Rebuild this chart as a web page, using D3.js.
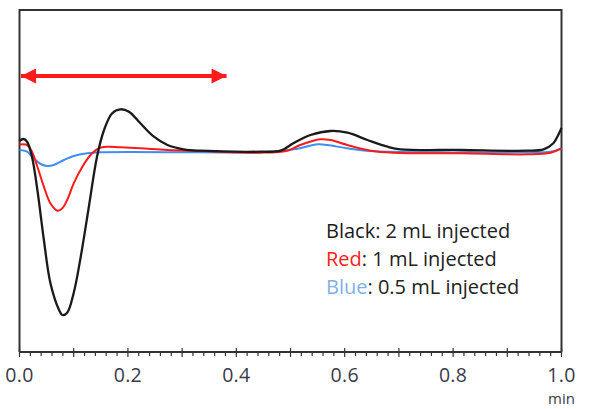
<!DOCTYPE html>
<html><head><meta charset="utf-8">
<script src="https://cdn.jsdelivr.net/npm/d3@7"></script>
<style>body{margin:0;background:#fff}svg{display:block}text{font-family:"Open Sans",sans-serif}</style>
</head><body>
<svg id="c" width="590" height="409"></svg>
<script>
// time (min) / signal (arbitrary units, baseline 0)
const blackT = [0,0.007,0.014,0.023,0.033,0.045,0.057,0.073,0.079,0.088,0.100,0.113,0.128,0.143,0.156,0.171,0.186,0.202,0.223,0.248,0.273,0.303,0.334,0.445,0.482,0.506,0.537,0.574,0.605,0.642,0.679,0.703,0.814,0.937,0.967,0.985,0.994,1.0];
const blackV = [11,13,10.3,-4.7,-38,-88,-131,-158,-163,-160.7,-141,-104.7,-54.7,-4.7,22,38.7,42.7,40.3,28.7,15.3,7,2.7,1.3,0.3,1.3,9,17,21,19.3,12,5.3,2.7,2,1.3,2.7,8.7,17,24];
const redT = [0,0.014,0.023,0.033,0.045,0.057,0.070,0.079,0.088,0.100,0.116,0.131,0.146,0.162,0.186,0.223,0.273,0.334,0.445,0.494,0.518,0.555,0.574,0.605,0.648,0.690,0.814,0.937,0.980,1.0];
const redV = [7.5,7,0.3,-14.7,-34.7,-51.3,-58.7,-56.3,-48,-31.3,-14.7,-3,3.7,5.3,4.7,3.7,2,1,-0.7,1.3,7,12.7,12,7,1.3,-0.7,-1.3,-2.3,-0.7,3.7];
const blueT = [0,0.014,0.026,0.039,0.051,0.063,0.082,0.100,0.125,0.149,0.334,0.445,0.506,0.550,0.568,0.605,0.648,0.753,0.937,0.980,1.0];
const blueV = [2,0.3,-6.3,-12,-14,-13,-8,-4,-1.3,-0.3,-0.3,-0.3,2.7,7.7,7,3.7,1,-0.3,-0.3,0.3,3.7];
const xTickLabels = ["0.0","0.2","0.4","0.6","0.8","1.0"];
const xUnit = "min";
const arrowSpan = [0, 0.382];
const arrowLevel = 76;
const legendLabels = ["Black","Red","Blue"];
const legendTexts = [": 2 mL injected",": 1 mL injected",": 0.5 mL injected"];

const svg = d3.select("#c");
const L=19.5, R=561.5, T=10, B=352;
const x = d3.scaleLinear().domain([0,1]).range([L,R]);
const y = d3.scaleLinear().domain([-200,142]).range([B,T]);

const frame="#333";
svg.append("path").attr("d",`M${L},${B}V${T}H${R}V${B}`).attr("fill","none").attr("stroke",frame).attr("stroke-width",2);

// x axis
const ax = svg.append("g").attr("transform",`translate(0,${B})`);
ax.append("line").attr("x1",L).attr("x2",R).attr("stroke",frame).attr("stroke-width",2);
const minor = d3.range(0,51).map(i=>i/50);
const isTenth = d=>Math.abs(d*10-Math.round(d*10))<1e-6;
ax.selectAll("line.mt").data(minor).join("line")
  .attr("x1",d=>x(d)).attr("x2",d=>x(d))
  .attr("y1",d=>isTenth(d)?-4:0)
  .attr("y2",d=>isTenth(d)?5:4)
  .attr("stroke",frame).attr("stroke-width",1.2);
ax.selectAll("text.tl").data(xTickLabels).join("text")
  .attr("x",d=>x(+d)).attr("y",30).attr("text-anchor","middle")
  .attr("font-size",19.5).attr("fill","#3a3a48").attr("letter-spacing",0.3).text(d=>d);
ax.append("text").attr("x",x(1)).attr("y",52).attr("text-anchor","middle")
  .attr("font-size",15).attr("fill","#3a3a48").text(xUnit);

const line = d3.line().x(d=>x(d[0])).y(d=>y(d[1])).curve(d3.curveCatmullRom.alpha(0.5));
const series = [
  {t:blueT,v:blueV,c:"#3d8ff0",w:2},
  {t:redT,v:redV,c:"#ff1a1a",w:2},
  {t:blackT,v:blackV,c:"#1a1a1a",w:2.3}
];
series.forEach(s=>{
  svg.append("path").datum(s.t.map((t,i)=>[t,s.v[i]])).attr("d",line)
    .attr("fill","none").attr("stroke",s.c).attr("stroke-width",s.w).attr("stroke-linejoin","round");
});

// arrow
const defs = svg.append("defs");
["s","e"].forEach(k=>{
  defs.append("marker").attr("id","ah"+k).attr("viewBox","0 0 10 10").attr("refX",k==="e"?10:0).attr("refY",5)
    .attr("markerUnits","userSpaceOnUse").attr("markerWidth",16).attr("markerHeight",15).attr("orient","auto")
    .append("path").attr("d",k==="e"?"M0,0L10,5L0,10Z":"M10,0L0,5L10,10Z").attr("fill","#ff1a1a");
});
svg.append("line").attr("x1",x(arrowSpan[0])+1.5).attr("x2",x(arrowSpan[1])).attr("y1",arrowLevel).attr("y2",arrowLevel)
  .attr("stroke","#ff1a1a").attr("stroke-width",4)
  .attr("marker-start","url(#ahs)").attr("marker-end","url(#ahe)");

// legend
const legColors=["#1a1a1a","#ff2020","#7fb0ea"];
const leg = svg.append("g");
legendLabels.forEach((l,i)=>{
  const t = leg.append("text").attr("x",326).attr("y",238+i*28).attr("font-size",20).attr("fill","#222");
  t.append("tspan").attr("fill",legColors[i]).text(l);
  t.append("tspan").text(legendTexts[i]);
});
</script>
</body></html>
